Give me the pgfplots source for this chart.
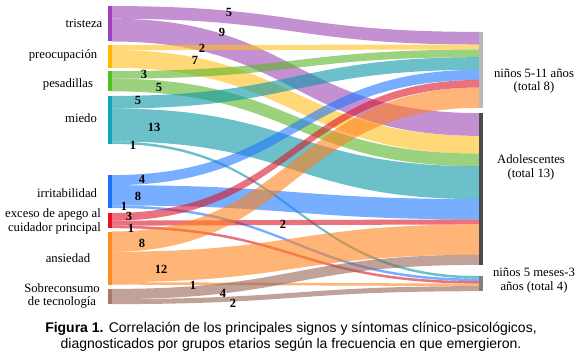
\documentclass[border=0pt]{standalone}
\usepackage{pgfplots}
\pgfplotsset{compat=1.18}
\usepackage{fontspec}
\setmainfont{Liberation Serif}
\newfontfamily\capfont{Liberation Sans}
\definecolor{cTri}{RGB}{155,70,180}
\definecolor{cPre}{RGB}{255,190,30}
\definecolor{cPes}{RGB}{90,180,40}
\definecolor{cMie}{RGB}{10,150,165}
\definecolor{cIrr}{RGB}{30,120,255}
\definecolor{cApe}{RGB}{220,20,40}
\definecolor{cAns}{RGB}{255,130,30}
\definecolor{cSob}{RGB}{150,100,85}
\definecolor{bTri}{RGB}{160,64,192}
\definecolor{bPre}{RGB}{255,184,0}
\definecolor{bPes}{RGB}{80,192,32}
\definecolor{bMie}{RGB}{16,168,184}
\definecolor{bIrr}{RGB}{31,112,240}
\definecolor{bApe}{RGB}{232,16,32}
\definecolor{bAns}{RGB}{255,138,32}
\definecolor{bSob}{RGB}{168,120,104}
% flow: colour, left top, right top, value
\newcommand{\flow}[4]{%
  \pgfmathsetmacro\lb{#2+#4}\pgfmathsetmacro\rb{#3+#4}%
  \edef\doflow{\noexpand\fill[#1, fill opacity=0.6] (axis cs:112,#2) .. controls (axis cs:295,#2) and (axis cs:295,#3) .. (axis cs:479,#3) -- (axis cs:479,\rb) .. controls (axis cs:295,\rb) and (axis cs:295,\lb) .. (axis cs:112,\lb) -- cycle;}%
  \doflow}
% node bar: colour, x, top, value
\newcommand{\nodebar}[4]{%
  \pgfmathsetmacro\nb{#3+#4}\pgfmathsetmacro\xr{#2+4}%
  \edef\donode{\noexpand\fill[#1] (axis cs:#2,#3) rectangle (axis cs:\xr,\nb);}%
  \donode}
\newcommand{\lab}{\fontsize{12.7}{13.5}\selectfont}
\newcommand{\num}{\fontsize{12.5}{13}\selectfont\bfseries}
\begin{document}
\begin{tikzpicture}
\begin{axis}[hide axis, scale only axis, width=581pt, height=356pt,
  xmin=0, xmax=581, ymin=0, ymax=140.71, y dir=reverse, clip=false]
\path (axis cs:0,0) rectangle (axis cs:581,140.71);
% tristeza (14)
\flow{cTri}{2.4}{12.6}{5}
\flow{cTri}{7.4}{44.7}{9}
% preocupacion (9)
\flow{cPre}{17.8}{17.6}{2}
\flow{cPre}{19.8}{53.7}{7}
% pesadillas (8)
\flow{cPes}{28.1}{19.6}{3}
\flow{cPes}{31.1}{60.7}{5}
% miedo (19)
\flow{cMie}{37.9}{22.6}{5}
\flow{cMie}{42.9}{65.7}{13}
\flow{cMie}{55.9}{109.1}{1}
% irritabilidad (13)
\flow{cIrr}{69.2}{27.6}{4}
\flow{cIrr}{73.2}{78.7}{8}
\flow{cIrr}{81.2}{110.1}{1}
% exceso de apego (6)
\flow{cApe}{84.2}{31.6}{3}
\flow{cApe}{87.2}{86.7}{2}
\flow{cApe}{89.2}{111.1}{1}
% ansiedad (21)
\flow{cAns}{91.5}{34.6}{8}
\flow{cAns}{99.5}{88.7}{12}
\flow{cAns}{111.5}{112.1}{1}
% sobreconsumo (6)
\flow{cSob}{114.2}{100.7}{4}
\flow{cSob}{118.2}{113.1}{2}
% left node bars
\nodebar{bTri}{108}{2.4}{14}
\nodebar{bPre}{108}{17.8}{9}
\nodebar{bPes}{108}{28.1}{8}
\nodebar{bMie}{108}{37.9}{19}
\nodebar{bIrr}{108}{69.2}{13}
\nodebar{bApe}{108}{84.2}{6}
\nodebar{bAns}{108}{91.5}{21}
\nodebar{bSob}{108}{114.2}{6}
% right node bars
\nodebar{black!28}{479}{12.6}{30}
\nodebar{black!70}{479}{44.7}{60}
\nodebar{black!50}{479}{109.1}{6}
% left labels
\node[font=\lab] at (axis cs:84,9.1) {tristeza};
\node[font=\lab] at (axis cs:63,22.1) {preocupación};
\node[font=\lab] at (axis cs:68,33.2) {pesadillas};
\node[font=\lab] at (axis cs:81,46.6) {miedo};
\node[font=\lab] at (axis cs:67,76.3) {irritabilidad};
\node[font=\lab, align=right, anchor=east, inner sep=0pt] at (axis cs:101,87.5) {exceso de apego al\\cuidador principal};
\node[font=\lab] at (axis cs:68,102.0) {ansiedad};
\node[font=\lab, align=center, inner sep=0pt] at (axis cs:62,117.0) {Sobreconsumo\\de tecnología};
% right labels
\node[font=\lab, align=center] at (axis cs:534,32.0) {niños 5-11 años\\(total 8)};
\node[font=\lab, align=center] at (axis cs:531,66.2) {Adolescentes\\(total 13)};
\node[font=\lab, align=center] at (axis cs:534,110.9) {niños 5 meses-3\\años (total 4)};
% flow numbers
\begin{scope}[every node/.style={font=\num, inner sep=0pt}]
\node at (axis cs:229,4.74) {5};
\node at (axis cs:222,13.0) {9};
\node at (axis cs:202,19.0) {2};
\node at (axis cs:195,23.7) {7};
\node at (axis cs:144,29.6) {3};
\node at (axis cs:159,34.4) {5};
\node at (axis cs:138,39.9) {5};
\node at (axis cs:154,50.2) {13};
\node at (axis cs:133,57.3) {1};
\node at (axis cs:142,70.8) {4};
\node at (axis cs:138,77.5) {8};
\node at (axis cs:124,81.4) {1};
\node at (axis cs:129,85.6) {3};
\node at (axis cs:131,90.3) {1};
\node at (axis cs:283,88.5) {2};
\node at (axis cs:142,96.4) {8};
\node at (axis cs:161,106.3) {12};
\node at (axis cs:193,112.6) {1};
\node at (axis cs:223,115.8) {4};
\node at (axis cs:233,119.8) {2};
\end{scope}
% caption
\node[font=\capfont\fontsize{14}{16}\selectfont, align=center] at (axis cs:291,133.2)
  {\textbf{Figura 1.} Correlación de los principales signos y síntomas clínico-psicológicos,\\
   diagnosticados por grupos etarios según la frecuencia en que emergieron.};
\end{axis}
\end{tikzpicture}
\end{document}
